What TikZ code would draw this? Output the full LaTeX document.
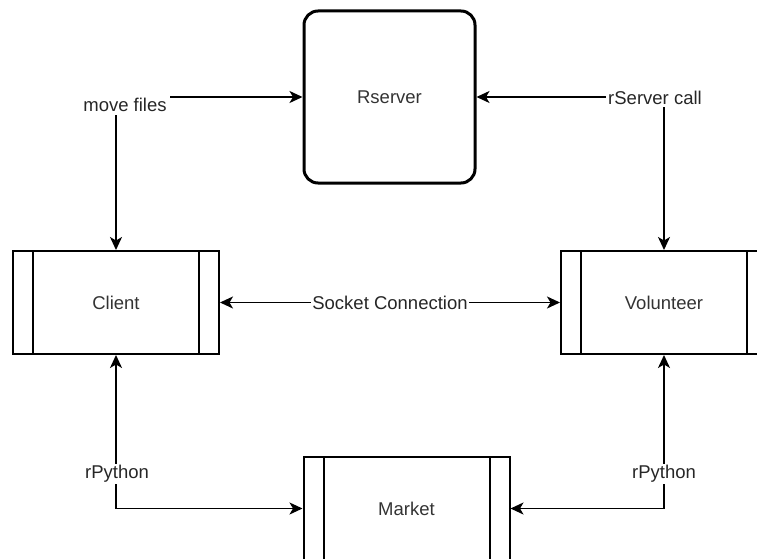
\documentclass[tikz,border=0pt]{standalone}
\usepackage{fontspec}
\setmainfont{Liberation Sans}
\usetikzlibrary{arrows.meta}
\begin{document}
\begin{tikzpicture}[x=1pt,y=-1pt,
  font=\fontsize{18.5}{22}\selectfont,
  proc/.style={draw, line width=2pt, minimum width=206pt, minimum height=103pt,
    inner sep=0pt, text=black!80},
  server/.style={draw, line width=3pt, rounded corners=14pt, minimum width=171pt,
    minimum height=172pt, inner sep=0pt, text=black!80},
  tip/.style={Stealth[length=13pt,width=12pt,inset=3.5pt]},
  link/.style={line width=1.6pt, {Stealth[length=13pt,width=12pt,inset=3.5pt]}-{Stealth[length=13pt,width=12pt,inset=3.5pt]}},
  lbl/.style={fill=white, inner sep=1pt, text=black!85}]
\useasboundingbox (0,0) rectangle (757,559);

% processes with side bars
\node[proc] (client) at (116,302.5) {Client};
\node[proc] (vol) at (664,302.5) {Volunteer};
\node[proc] (market) at (406.5,508.5) {Market};
\foreach \n in {client,vol,market}{
  \draw[line width=2pt] ([xshift=21pt]\n.north west) -- ([xshift=21pt]\n.south west);
  \draw[line width=2pt] ([xshift=-21pt]\n.north east) -- ([xshift=-21pt]\n.south east);
}
\node[server] (rs) at (389.5,97) {Rserver};

% connectors
\draw[link] (client.north) |- (rs.west);
\node[lbl, inner sep=3.5pt] (mf) at (125,105) {move files};
\draw[link] (vol.north) |- (rs.east);
\node[lbl, inner sep=2pt] (rc) at (655,98) {rServer call};
\draw[link] (client.east) -- node[lbl] (sc) {Socket Connection} (vol.west);
\draw[link] (client.south) |- (market.west);
\node[lbl] (rp1) at (117,474) {rPython};
\draw[link] (vol.south) |- (market.east);
\node[lbl] (rp2) at (664,474) {rPython};
\end{tikzpicture}
\end{document}
